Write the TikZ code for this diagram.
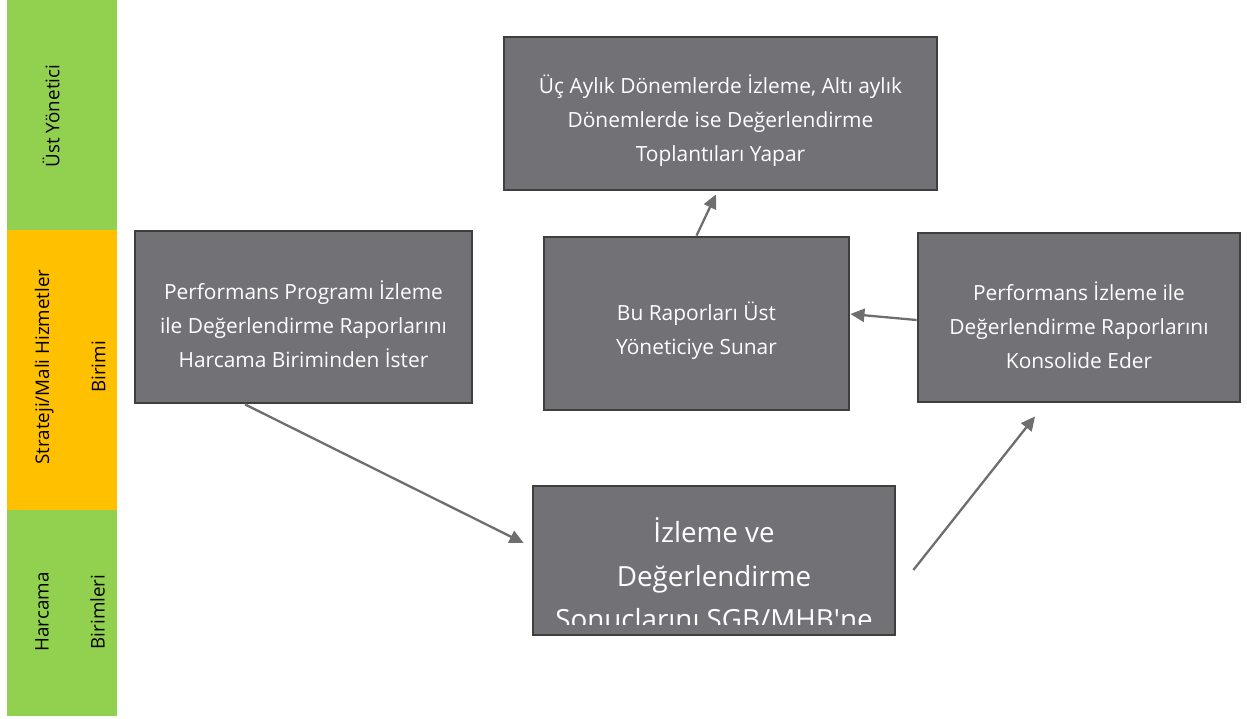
\documentclass[tikz,border=0pt]{standalone}
\usepackage{fontspec}
\setmainfont{Open Sans}
\usetikzlibrary{arrows.meta}

\definecolor{lanegreen}{HTML}{92D050}
\definecolor{laneorange}{HTML}{FFC000}
\definecolor{boxfill}{RGB}{114,113,118}
\definecolor{boxline}{HTML}{3F3F3F}
\definecolor{flowgray}{HTML}{6E6E6E}

\newcommand\boxlift{\rule{0pt}{19pt}}

\tikzset{
    stepbox/.style={draw=boxline, line width=1.6pt, fill=boxfill, text=white,
        align=center, inner sep=0pt, font=\fontsize{11.9}{19.3}\selectfont},
    flow/.style={draw=flowgray, line width=1.3pt,
        -{Triangle[length=8pt,width=7.5pt]}},
    lanetext/.style={rotate=90, align=center, font=\fontsize{10.7}{32}\selectfont}
}

\begin{document}
\begin{tikzpicture}[x=0.02cm, y=-0.02cm]
        \useasboundingbox (0, 0) rectangle (1247, 718);

        \foreach \ya/\yb/\col in {0/230/lanegreen, 230/510/laneorange,
            510/716/lanegreen}
        \fill[\col] (7, \ya) rectangle (117, \yb);

        \node[lanetext] (ust) at (51, 116) {Üst Yönetici};
        \node[lanetext] (sgb) at (70, 367) {Strateji/Mali Hizmetler\\Birimi};
        \node[lanetext] (hb) at (70, 612) {Harcama\\Birimleri};

        \node[stepbox, minimum width=8.66cm, minimum height=3.06cm] (top)
            at (720.5, 113.5)
            {\boxlift Üç Aylık Dönemlerde İzleme, Altı aylık\\Dönemlerde ise Değerlendirme\\Toplantıları Yapar};
        \node[stepbox, minimum width=6.74cm, minimum height=3.44cm] (ister)
            at (303.5, 317)
            {\boxlift Performans Programı İzleme\\ile Değerlendirme Raporlarını\\Harcama Biriminden İster};
        \node[stepbox, minimum width=6.1cm, minimum height=3.46cm] (sunar)
            at (696.5, 323.5)
            {\boxlift Bu Raporları Üst\\Yöneticiye Sunar};
        \node[stepbox, minimum width=6.44cm, minimum height=3.38cm] (kons)
            at (1079, 317.5)
            {\boxlift Performans İzleme ile\\Değerlendirme Raporlarını\\Konsolide Eder};
        \node[stepbox, minimum width=7.24cm, minimum height=2.98cm,
            path picture={
                \clip (path picture bounding box.north west) rectangle
                    ([yshift=0.22cm]path picture bounding box.south east);
                \node[draw=none, fill=none, text=white, align=center,
                    inner sep=0pt, anchor=north,
                    font=\fontsize{15.8}{24.7}\selectfont]
                    at ([yshift=-0.3cm]path picture bounding box.north)
                    {İzleme ve\\Değerlendirme\\Sonuçlarını SGB/MHB\textquotesingle ne};
            }] (gonder) at (714, 560.5) {};

        \draw[flow] ([xshift=-1.17cm]ister.south) -- ([xshift=-0.16cm, yshift=0.35cm]gonder.west);
        \draw[flow] ([xshift=0.34cm, yshift=-0.19cm]gonder.east) -- ([xshift=-0.88cm, yshift=-0.26cm]kons.south);
        \draw[flow] ([yshift=-0.05cm]kons.west) -- ([yshift=0.19cm]sunar.east);
        \draw[flow] (sunar.north) -- ([xshift=-0.09cm, yshift=-0.06cm]top.south);
    \end{tikzpicture}
\end{document}
